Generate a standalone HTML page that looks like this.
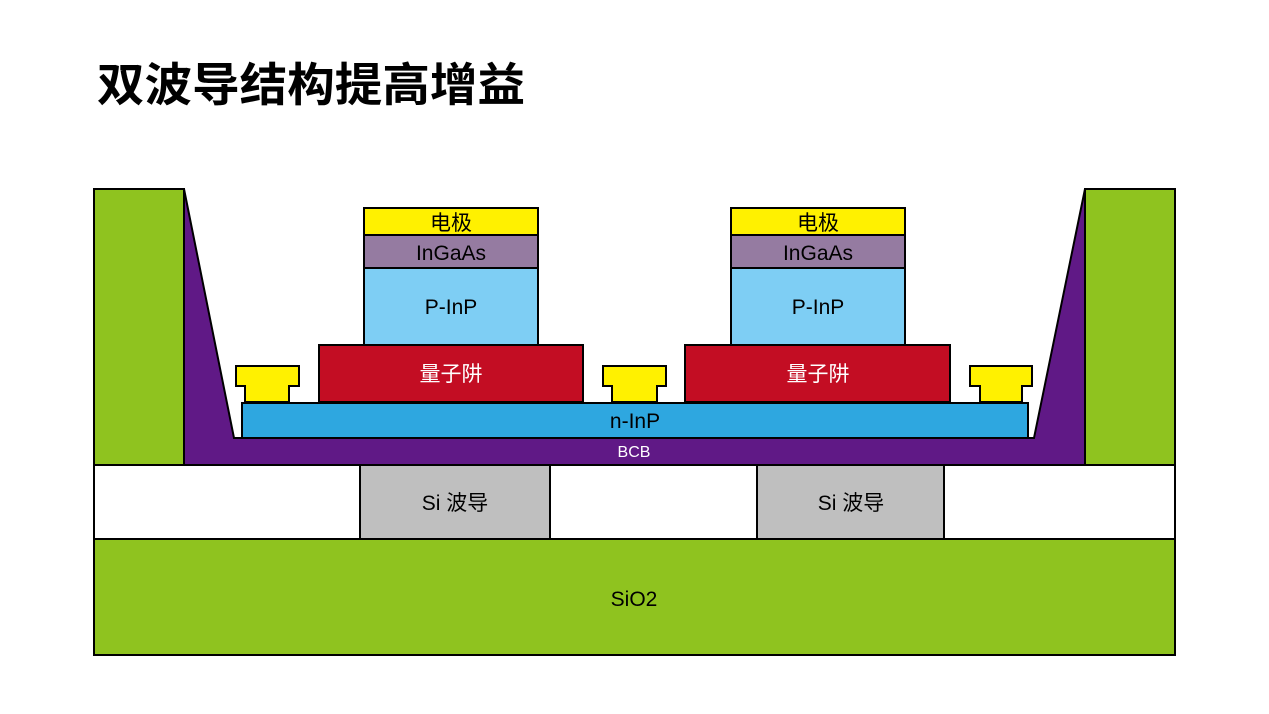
<!DOCTYPE html>
<html><head><meta charset="utf-8"><style>
html,body{margin:0;padding:0;background:#fff;width:1269px;height:714px;overflow:hidden}
svg text{font-family:"Liberation Sans","Noto Sans CJK SC",sans-serif}
</style></head><body>
<svg width="1269" height="714" viewBox="0 0 1269 714" xmlns="http://www.w3.org/2000/svg">
<text x="97" y="101" font-size="46" font-weight="bold" fill="#000" textLength="428" lengthAdjust="spacingAndGlyphs" style="font-family:'Noto Sans CJK SC',sans-serif">双波导结构提高增益</text>
<g stroke="#000" stroke-width="2">
<rect x="94" y="539" width="1081" height="116" fill="#8fc31f"/>
<rect x="94" y="465" width="1081" height="74" fill="#fff"/>
<rect x="360" y="465" width="190" height="74" fill="#bfbfbf"/>
<rect x="757" y="465" width="187" height="74" fill="#bfbfbf"/>
<rect x="94" y="189" width="90" height="276" fill="#8fc31f"/>
<rect x="1085" y="189" width="90" height="276" fill="#8fc31f"/>
<polygon points="184,189 234,438 1034,438 1085,189 1085,465 184,465" fill="#601986"/>
<rect x="242" y="403" width="786" height="35" fill="#2ea7e0"/>
<rect x="319" y="345" width="264" height="57" fill="#c30d23"/>
<rect x="685" y="345" width="265" height="57" fill="#c30d23"/>
<rect x="364" y="268" width="174" height="77" fill="#7ecef4"/>
<rect x="731" y="268" width="174" height="77" fill="#7ecef4"/>
<rect x="364" y="235" width="174" height="33" fill="#957ba1"/>
<rect x="731" y="235" width="174" height="33" fill="#957ba1"/>
<rect x="364" y="208" width="174" height="27" fill="#fff100"/>
<rect x="731" y="208" width="174" height="27" fill="#fff100"/>
<polygon points="236,366 299,366 299,386 289,386 289,402 245,402 245,386 236,386" fill="#fff100"/>
<polygon points="603,366 666,366 666,386 657,386 657,402 612,402 612,386 603,386" fill="#fff100"/>
<polygon points="970,366 1032,366 1032,386 1022,386 1022,402 980,402 980,386 970,386" fill="#fff100"/>
</g>
<g font-size="21" text-anchor="middle" fill="#000">
<text x="451" y="230">电极</text><text x="818" y="230">电极</text>
<text x="451" y="260">InGaAs</text><text x="818" y="260">InGaAs</text>
<text x="451" y="314">P-InP</text><text x="818" y="314">P-InP</text>
<text x="451" y="381" fill="#fff">量子阱</text><text x="818" y="381" fill="#fff">量子阱</text>
<text x="635" y="428">n-InP</text>
<text x="634" y="457" font-size="16" fill="#fff">BCB</text>
<text x="455" y="510">Si 波导</text><text x="851" y="510">Si 波导</text>
<text x="634" y="606">SiO2</text>
</g>
</svg>
</body></html>
